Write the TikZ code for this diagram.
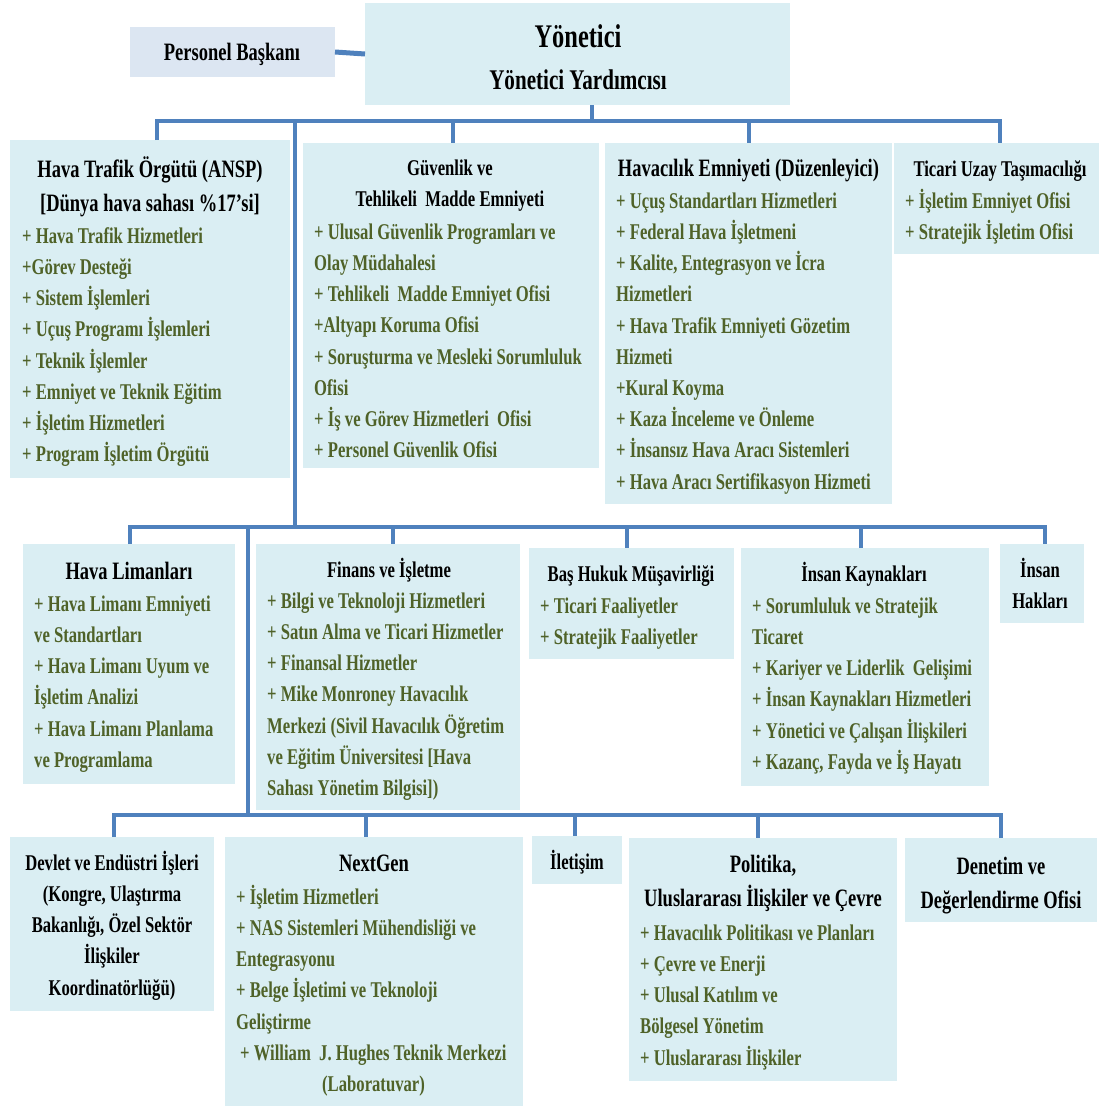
\documentclass[tikz,border=0pt]{standalone}
\usepackage{fontspec}
\setmainfont{Liberation Serif}[FakeStretch=0.74]
\definecolor{boxfill}{HTML}{DAEEF3}
\definecolor{perfill}{HTML}{DCE6F2}
\definecolor{linkblue}{HTML}{4F81BD}
\definecolor{itemgreen}{HTML}{4F6228}
\newcommand\itf{\fontsize{22.5}{31.2}\selectfont\bfseries}
\newcommand\hdf{\fontsize{25}{34}\selectfont\bfseries}
\tikzset{
  orgbox/.style={fill=boxfill, draw=none, inner sep=0pt, outer sep=0pt, anchor=north west},
  conn/.style={draw=linkblue, line width=4.5pt},
  hd/.style={font=\hdf, align=center, inner sep=0pt, anchor=north, text=black},
  hds/.style={font=\itf, align=center, inner sep=0pt, anchor=north, text=black},
  itm/.style={font=\itf, align=left, inner sep=0pt, anchor=north west, text=itemgreen},
}
\begin{document}
\begin{tikzpicture}[x=1pt,y=-1pt]
\useasboundingbox (0,0) rectangle (1099,1106);
% boxes
\node[orgbox, fill=perfill, minimum width=205pt, minimum height=50pt] (per) at (130,27) {};
\node[orgbox, minimum width=425pt, minimum height=102pt] (yon) at (365,3) {};
\node[orgbox, minimum width=280pt, minimum height=338pt] (ansp) at (10,140) {};
\node[orgbox, minimum width=296pt, minimum height=325pt] (guv) at (303,143) {};
\node[orgbox, minimum width=287pt, minimum height=361pt] (hav) at (605,143) {};
\node[orgbox, minimum width=205pt, minimum height=111pt] (tic) at (894,143) {};
\node[orgbox, minimum width=212pt, minimum height=240pt] (hl) at (23,544) {};
\node[orgbox, minimum width=264pt, minimum height=266pt] (fin) at (256,544) {};
\node[orgbox, minimum width=205pt, minimum height=111pt] (bhm) at (529,548) {};
\node[orgbox, minimum width=248pt, minimum height=238pt] (ik) at (741,548) {};
\node[orgbox, minimum width=84pt, minimum height=79pt] (ih) at (1000,544) {};
\node[orgbox, minimum width=204pt, minimum height=174pt] (dev) at (10,837) {};
\node[orgbox, minimum width=298pt, minimum height=269pt] (ng) at (225,837) {};
\node[orgbox, minimum width=90pt, minimum height=48pt] (ilt) at (532,836) {};
\node[orgbox, minimum width=268pt, minimum height=243pt] (pol) at (629,838) {};
\node[orgbox, minimum width=192pt, minimum height=84pt] (den) at (905,838) {};
% bus coordinates
\coordinate (b1L) at (157,121);
\coordinate (b1R) at (1000,121);
\coordinate (b1Y) at (592,121);
\coordinate (b1G) at (453,121);
\coordinate (b1H) at (749,121);
\coordinate (t1) at (295,121);
\coordinate (t2) at (295,527);
\coordinate (b2L) at (130,527);
\coordinate (b2R) at (1045,527);
\coordinate (b2F) at (393,527);
\coordinate (b2B) at (627,527);
\coordinate (b2K) at (861,527);
\coordinate (t3) at (248,527);
\coordinate (t4) at (248,815);
\coordinate (b3L) at (114,815);
\coordinate (b3R) at (1001,815);
\coordinate (b3N) at (366,815);
\coordinate (b3I) at (575,815);
\coordinate (b3P) at (758,815);
% connectors
\draw[conn, line width=5pt] (per.east) -- (yon.west);
\draw[conn] (b1Y |- yon.south) -- (b1Y);
\draw[conn] (ansp.north -| b1L) -- (b1L) -- (b1R) -- (b1R |- tic.north);
\draw[conn] (b1G) -- (b1G |- guv.north);
\draw[conn] (b1H) -- (b1H |- hav.north);
\draw[conn] (t1) -- (t2);
\draw[conn] (hl.north -| b2L) -- (b2L) -- (b2R) -- (b2R |- ih.north);
\draw[conn] (b2F) -- (b2F |- fin.north);
\draw[conn] (b2B) -- (b2B |- bhm.north);
\draw[conn] (b2K) -- (b2K |- ik.north);
\draw[conn] (t3) -- (t4);
\draw[conn] (dev.north -| b3L) -- (b3L) -- (b3R) -- (b3R |- den.north);
\draw[conn] (b3N) -- (b3N |- ng.north);
\draw[conn] (b3I) -- (b3I |- ilt.north);
\draw[conn] (b3P) -- (b3P |- pol.north);
% texts
\node[hd] (per-t) at (232,36.2) {\strut Personel Başkanı};
\node[align=center, inner sep=0pt, anchor=north, font=\fontsize{28.5}{42}\selectfont\bfseries] (yon-t) at (578,17.6)
  {\strut{\fontsize{33}{42}\selectfont Yönetici}\\Yönetici Yardımcısı};
\node[hd] (ansp-h) at (150,153.2) {\strut Hava Trafik Örgütü (ANSP)\\{}[Dünya hava sahası \%17’si]};
\node[itm] (ansp-i) at (22,221.2) {\strut + Hava Trafik Hizmetleri\\+Görev Desteği\\+ Sistem İşlemleri\\+ Uçuş Programı İşlemleri\\+ Teknik İşlemler\\+ Emniyet ve Teknik Eğitim\\+ İşletim Hizmetleri\\+ Program İşletim Örgütü};
\node[hds] (guv-h) at (450,153.2) {\strut Güvenlik ve\\Tehlikeli\ \ Madde Emniyeti};
\node[itm] (guv-i) at (314,217.2) {\strut + Ulusal Güvenlik Programları ve\\Olay Müdahalesi\\+ Tehlikeli\ \ Madde Emniyet Ofisi\\+Altyapı Koruma Ofisi\\+ Soruşturma ve Mesleki Sorumluluk\\Ofisi\\+ İş ve Görev Hizmetleri\ \ Ofisi\\+ Personel Güvenlik Ofisi};
\node[hd] (hav-h) at (748.5,152.2) {\strut Havacılık Emniyeti (Düzenleyici)};
\node[itm] (hav-i) at (616,186.2) {\strut + Uçuş Standartları Hizmetleri\\+ Federal Hava İşletmeni\\+ Kalite, Entegrasyon ve İcra\\Hizmetleri\\+ Hava Trafik Emniyeti Gözetim\\Hizmeti\\+Kural Koyma\\+ Kaza İnceleme ve Önleme\\+ İnsansız Hava Aracı Sistemleri\\+ Hava Aracı Sertifikasyon Hizmeti};
\node[hds] (tic-h) at (1000,154.2) {\strut Ticari Uzay Taşımacılığı};
\node[itm] (tic-i) at (905,186.2) {\strut + İşletim Emniyet Ofisi\\+ Stratejik İşletim Ofisi};
\node[hd] (hl-h) at (129,555.2) {\strut Hava Limanları};
\node[itm] (hl-i) at (34,589.2) {\strut + Hava Limanı Emniyeti\\ve Standartları\\+ Hava Limanı Uyum ve\\İşletim Analizi\\+ Hava Limanı Planlama\\ve Programlama};
\node[hds] (fin-h) at (389,555.2) {\strut Finans ve İşletme};
\node[itm] (fin-i) at (267,586.2) {\strut + Bilgi ve Teknoloji Hizmetleri\\+ Satın Alma ve Ticari Hizmetler\\+ Finansal Hizmetler\\+ Mike Monroney Havacılık\\Merkezi (Sivil Havacılık Öğretim\\ve Eğitim Üniversitesi [Hava\\Sahası Yönetim Bilgisi])};
\node[hds] (bhm-h) at (631,559.2) {\strut Baş Hukuk Müşavirliği};
\node[itm] (bhm-i) at (540,591.2) {\strut + Ticari Faaliyetler\\+ Stratejik Faaliyetler};
\node[hds] (ik-h) at (864,559.2) {\strut İnsan Kaynakları};
\node[itm] (ik-i) at (752,591.2) {\strut + Sorumluluk ve Stratejik\\Ticaret\\+ Kariyer ve Liderlik\ \ Gelişimi\\+ İnsan Kaynakları Hizmetleri\\+ Yönetici ve Çalışan İlişkileri\\+ Kazanç, Fayda ve İş Hayatı};
\node[hds] (ih-h) at (1040,555.2) {\strut İnsan\\Hakları};
\node[hds] (dev-h) at (112,848.2) {\strut Devlet ve Endüstri İşleri\\(Kongre, Ulaştırma\\Bakanlığı, Özel Sektör\\İlişkiler\\Koordinatörlüğü)};
\node[hd] (ng-h) at (374,847.2) {\strut NextGen};
\node[itm] (ng-i) at (236,882.2) {\strut + İşletim Hizmetleri\\+ NAS Sistemleri Mühendisliği ve\\Entegrasyonu\\+ Belge İşletimi ve Teknoloji\\Geliştirme\\\hspace*{4pt}+ William\ \ J. Hughes Teknik Merkezi\\\hspace*{86pt}(Laboratuvar)};
\node[hds] (ilt-h) at (577,847.2) {\strut İletişim};
\node[hd] (pol-h) at (763,848.2) {\strut Politika,\\Uluslararası İlişkiler ve Çevre};
\node[itm] (pol-i) at (640,918.2) {\strut + Havacılık Politikası ve Planları\\+ Çevre ve Enerji\\+ Ulusal Katılım ve\\Bölgesel Yönetim\\+ Uluslararası İlişkiler};
\node[hd] (den-h) at (1001,850.2) {\strut Denetim ve\\Değerlendirme Ofisi};
\end{tikzpicture}
\end{document}
